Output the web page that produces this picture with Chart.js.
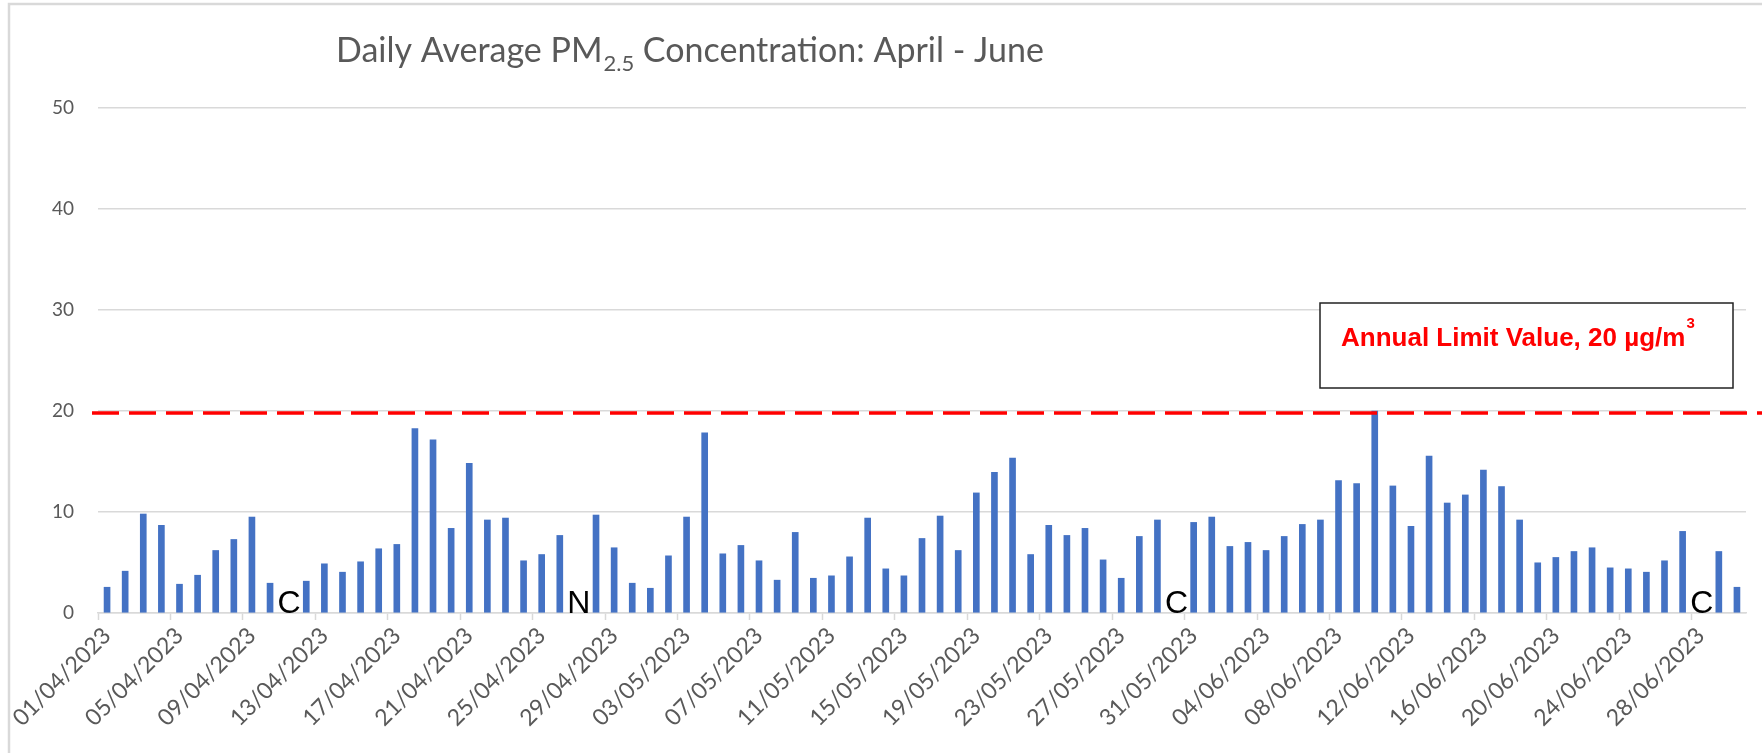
<!DOCTYPE html>
<html>
<head>
<meta charset="utf-8">
<script src="https://cdn.jsdelivr.net/npm/chart.js@4.4.0/dist/chart.umd.min.js"></script>
<style>
  html, body { margin: 0; padding: 0; background: #fff; }
  #wrap { width: 1762px; height: 753px; }
</style>
</head>
<body>
<div id="wrap"><canvas id="pmChart" width="1762" height="753"></canvas></div>
<script>
// daily average PM2.5, µg/m3 (null = no reading that day)
var aprilValues = [2.55, 4.14, 9.8, 8.68, 2.85, 3.74, 6.19, 7.28, 9.5, 2.95,
  null, 3.15, 4.87, 4.04, 5.07, 6.36, 6.79, 18.25, 17.15, 8.38,
  14.83, 9.21, 9.4, 5.17, 5.79, 7.68, null, 9.7, 6.46, 2.95];
var mayValues = [2.45, 5.66, 9.5, 17.85, 5.86, 6.69, 5.17, 3.25, 7.98, 3.44,
  3.68, 5.56, 9.4, 4.37, 3.68, 7.38, 9.6, 6.19, 11.89, 13.94,
  15.33, 5.79, 8.68, 7.68, 8.38, 5.26, 3.44, 7.58, 9.21, null, 8.97];
var juneValues = [9.5, 6.59, 6.99, 6.19, 7.58, 8.77, 9.21, 13.11, 12.81, 20.0,
  12.58, 8.58, 15.53, 10.89, 11.69, 14.14, 12.52, 9.21, 4.97, 5.5,
  6.09, 6.46, 4.47, 4.37, 4.04, 5.17, 8.08, null, 6.09, 2.55];

var months = ['04', '05', '06'];
var monthLengths = [30, 31, 30];
var yTicks = [0, 10, 20, 30, 40, 50];
var labelStep = 4;

var limitValue = 19.8;
var limitText = 'Annual Limit Value, 20 µg/m';
var limitSup = '3';

// letters written where a day has no value
var noteDays = ['11/04/2023', '27/04/2023', '30/05/2023', '28/06/2023'];
var noteText = ['C', 'N', 'C', 'C'];

var titleMain = 'Daily Average PM';
var titleSub = '2.5';
var titleRest = ' Concentration: April - June';

// category labels dd/mm/yyyy
var dayLabels = [];
months.forEach(function (m, k) {
  for (var d = 1; d <= monthLengths[k]; d++) {
    dayLabels.push((d < 10 ? '0' + d : '' + d) + '/' + m + '/2023');
  }
});
var dailyValues = aprilValues.concat(mayValues, juneValues);

var GRID = '#d9d9d9';
var TEXT = '#595959';

var extras = {
  id: 'extras',
  beforeDraw: function (chart) {
    var ctx = chart.ctx;
    ctx.save();
    ctx.fillStyle = '#fff';
    ctx.fillRect(0, 0, chart.width, chart.height);
    // outer frame (left and top edges visible)
    ctx.strokeStyle = GRID;
    ctx.lineWidth = 2.5;
    ctx.beginPath();
    ctx.moveTo(9, chart.height);
    ctx.lineTo(9, 4);
    ctx.lineTo(chart.width, 4);
    ctx.stroke();
    ctx.restore();
  },
  afterDatasetsDraw: function (chart) {
    var ctx = chart.ctx;
    var xs = chart.scales.x, ys = chart.scales.y, area = chart.chartArea;
    ctx.save();

    // title with subscript
    ctx.fillStyle = TEXT;
    ctx.textBaseline = 'alphabetic';
    ctx.textAlign = 'left';
    var tx = 336, ty = 62;
    ctx.font = '34px Lato';
    ctx.fillText(titleMain, tx, ty);
    tx += ctx.measureText(titleMain).width;
    ctx.font = '22px Lato';
    ctx.fillText(titleSub, tx + 1, ty + 9);
    tx += ctx.measureText(titleSub).width + 1;
    ctx.font = '34px Lato';
    ctx.fillText(titleRest, tx, ty);

    // limit line
    var ly = ys.getPixelForValue(limitValue);
    ctx.strokeStyle = '#ff0000';
    ctx.lineWidth = 3.5;
    ctx.setLineDash([27, 10]);
    ctx.beginPath();
    ctx.moveTo(area.left - 6, ly);
    ctx.lineTo(chart.width, ly);
    ctx.stroke();
    ctx.setLineDash([]);

    // missing-day letters
    ctx.fillStyle = '#000';
    ctx.font = '32px "Liberation Sans"';
    ctx.textAlign = 'center';
    noteDays.forEach(function (d, i) {
      var px = xs.getPixelForValue(dayLabels.indexOf(d));
      ctx.fillText(noteText[i], px + 1, ys.getPixelForValue(0));
    });

    // limit label box
    var bRight = area.right - 13, bLeft = bRight - 413;
    var bTop = ys.getPixelForValue(30) - 7, bH = 85;
    ctx.fillStyle = '#fff';
    ctx.fillRect(bLeft, bTop, bRight - bLeft, bH);
    ctx.strokeStyle = '#222';
    ctx.lineWidth = 1.5;
    ctx.strokeRect(bLeft, bTop, bRight - bLeft, bH);
    ctx.fillStyle = '#ff0000';
    ctx.textAlign = 'left';
    ctx.font = 'bold 26px "Liberation Sans"';
    ctx.fillText(limitText, bLeft + 21, bTop + 43);
    var sx = bLeft + 21 + ctx.measureText(limitText).width + 1;
    ctx.font = 'bold 15px "Liberation Sans"';
    ctx.fillText(limitSup, sx, bTop + 25);

    ctx.restore();
  }
};

var chart = new Chart(document.getElementById('pmChart').getContext('2d'), {
  type: 'bar',
  data: {
    labels: dayLabels,
    datasets: [{
      label: 'PM2.5',
      data: dailyValues,
      backgroundColor: '#4472c4',
      barThickness: 6
    }]
  },
  options: {
    responsive: false,
    animation: false,
    layout: { padding: { top: 108, right: 16, left: 0, bottom: 0 } },
    plugins: {
      legend: { display: false },
      title: { display: false },
      tooltip: { enabled: false }
    },
    scales: {
      x: {
        offset: true,
        grid: {
          offset: true,
          drawOnChartArea: false,
          tickLength: 7,
          tickWidth: 1.5,
          tickColor: function (c) { return c.index % labelStep === 0 ? GRID : 'rgba(0,0,0,0)'; }
        },
        border: { color: GRID, width: 1.5 },
        ticks: {
          autoSkip: false,
          minRotation: 45,
          maxRotation: 45,
          padding: 2,
          color: TEXT,
          font: { family: 'Lato', size: 23 },
          callback: function (v, i) { return i % labelStep === 0 ? this.getLabelForValue(v) : ''; }
        },
        afterFit: function (s) { s.height = 140; }
      },
      y: {
        min: yTicks[0],
        max: yTicks[yTicks.length - 1],
        afterBuildTicks: function (s) { s.ticks = yTicks.map(function (v) { return { value: v }; }); },
        grid: { color: GRID, lineWidth: 1.5, drawTicks: false },
        border: { display: false },
        ticks: { padding: 24, color: TEXT, font: { family: 'Lato', size: 19 } },
        afterFit: function (s) { s.width = 98; }
      }
    }
  },
  plugins: [extras]
});
</script>
</body>
</html>
